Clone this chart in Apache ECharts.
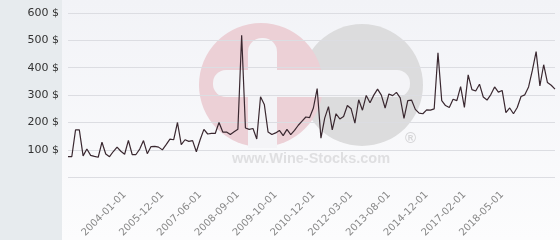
<!DOCTYPE html>
<html><head><meta charset="utf-8">
<script src="https://cdn.jsdelivr.net/npm/echarts@6/dist/echarts.min.js"></script>
<style>html,body{margin:0;padding:0;background:#fff}#c{width:560px;height:240px}</style>
</head><body><div id="c"></div>
<script>
var dates = [
'2001-09-01','2001-11-01','2002-01-01','2002-03-01','2002-05-01','2002-07-01','2002-08-01','2002-10-01','2002-11-01','2003-01-01',
'2003-03-01','2003-05-01','2003-07-01','2003-09-01','2003-11-01','2004-01-01','2004-03-01','2004-05-01','2004-08-01','2004-10-01',
'2004-12-01','2005-02-01','2005-05-01','2005-07-01','2005-09-01','2005-12-01','2006-02-01','2006-04-01','2006-06-01','2006-07-01',
'2006-09-01','2006-11-01','2007-01-01','2007-03-01','2007-04-01','2007-06-01','2007-08-01','2007-09-01','2007-11-01','2008-01-01',
'2008-02-01','2008-03-01','2008-05-01','2008-06-01','2008-07-01','2008-09-01','2008-10-01','2008-11-01','2008-12-01','2009-02-01',
'2009-03-01','2009-05-01','2009-06-01','2009-07-01','2009-08-01','2009-10-01','2009-11-01','2009-12-01','2010-02-01','2010-03-01',
'2010-05-01','2010-06-01','2010-07-01','2010-09-01','2010-10-01','2010-12-01','2011-01-01','2011-03-01','2011-04-01','2011-06-01',
'2011-07-01','2011-09-01','2011-10-01','2011-12-01','2012-01-01','2012-03-01','2012-05-01','2012-06-01','2012-08-01','2012-10-01',
'2012-11-01','2013-01-01','2013-03-01','2013-04-01','2013-06-01','2013-08-01','2013-10-01','2013-11-01','2014-01-01','2014-03-01',
'2014-04-01','2014-06-01','2014-07-01','2014-09-01','2014-10-01','2014-12-01','2015-03-01','2015-05-01','2015-08-01','2015-10-01',
'2016-01-01','2016-03-01','2016-06-01','2016-08-01','2016-11-01','2017-02-01','2017-03-01','2017-05-01','2017-07-01','2017-08-01',
'2017-10-01','2017-11-01','2018-01-01','2018-02-01','2018-04-01','2018-05-01','2018-07-01','2018-08-01','2018-10-01','2018-11-01',
'2019-01-01','2019-02-01','2019-04-01','2019-05-01','2019-07-01','2019-08-01','2019-10-01','2019-11-01','2020-01-01','2020-02-01'
];
var prices = [
75,75,173,173,78,103,80,76,73,128,
85,75,94,110,95,84,135,83,83,103,
134,86,112,113,110,100,119,139,137,200,
119,137,131,134,93,137,175,158,160,160,
200,165,165,156,166,175,519,180,175,178,
140,294,266,165,156,162,171,152,175,156,
171,190,205,220,218,253,324,143,216,258,
173,232,213,222,262,250,198,283,245,299,
272,300,322,300,253,304,298,310,290,215,
280,282,248,234,232,246,245,250,455,280,
262,255,285,280,331,255,374,320,315,340,
293,282,302,330,311,317,236,253,232,255,
295,301,330,390,459,334,411,346,336,322
];
var tickLabels = ['2004-01-01','2005-12-01','2007-06-01','2008-09-01','2009-10-01','2010-12-01','2012-03-01','2013-08-01','2014-12-01','2017-02-01','2018-05-01'];
var yTicks = [0,100,200,300,400,500,600];

var chart = echarts.init(document.getElementById('c'), null, {renderer:'canvas'});
chart.setOption({
  animation:false,
  graphic:[
    {type:'rect', z:-20, shape:{x:0,y:0,width:62,height:240}, style:{fill:'#e7ebee'}},
    {type:'rect', z:-20, shape:{x:62,y:0,width:498,height:240},
      style:{fill:new echarts.graphic.LinearGradient(0,0,0,1,[{offset:0,color:'#f2f3f7'},{offset:1,color:'#fcfcfd'}])}},
    {type:'circle', z:-10, shape:{cx:362,cy:85,r:61}, style:{fill:'#dcdcdd'}},
    {type:'circle', z:-10, shape:{cx:261,cy:85,r:62}, style:{fill:'#ecd0d6'}},
    {type:'rect', z:-9, shape:{x:248,y:38,width:29,height:110,r:[14,14,0,0]}, style:{fill:'#f4f4f7'}},
    {type:'rect', z:-9, shape:{x:213,y:70,width:197,height:27,r:13}, style:{fill:'#f4f4f7'}},
    {type:'text', z:-8, left:232, top:151, style:{text:'www.Wine-Stocks.com', fill:'#dfdfe1', font:'bold 14.5px "Liberation Sans", Arial, sans-serif'}},
    {type:'text', z:-8, left:405, top:131, style:{text:'®', fill:'#d6d6d8', font:'bold 15px "Liberation Sans", Arial, sans-serif'}}
  ],
  grid:{left:68, right:5, top:13, bottom:62, containLabel:false},
  xAxis:{
    type:'category', data:dates, boundaryGap:false,
    axisLine:{show:false}, axisTick:{show:false}, splitLine:{show:false},
    axisLabel:{
      rotate:45, margin:16, color:'#888', fontSize:10, fontFamily:'DejaVu Sans',
      interval:function(i,v){return tickLabels.indexOf(v)>=0;}
    }
  },
  yAxis:{
    type:'value', min:yTicks[0], max:yTicks[yTicks.length-1], interval:100,
    axisLine:{show:false}, axisTick:{show:false},
    splitLine:{lineStyle:{color:'#dcdde2', width:1}},
    axisLabel:{margin:9, color:'#333', fontSize:11, fontFamily:'DejaVu Sans',
      formatter:function(v){return v===0?'':v+' $';}}
  },
  series:[{type:'line', data:prices, symbol:'none', lineStyle:{color:'#3a2830', width:1.2}, z:5}]
});
</script></body></html>
